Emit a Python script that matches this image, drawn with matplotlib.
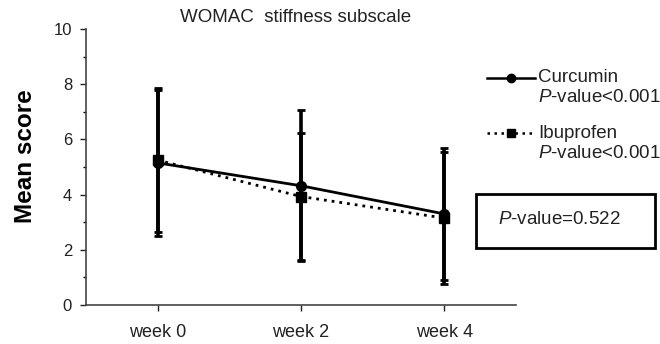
import matplotlib
matplotlib.use("Agg")
import matplotlib.pyplot as plt
from matplotlib.lines import Line2D
from matplotlib.patches import Rectangle

plt.rcParams['font.family'] = ['Liberation Sans', 'DejaVu Sans']
plt.rcParams['mathtext.fontset'] = 'custom'
plt.rcParams['mathtext.rm'] = 'Liberation Sans'
plt.rcParams['mathtext.it'] = 'Liberation Sans:italic'

# data
weeks = ["week 0", "week 2", "week 4"]
curcumin = [5.15, 4.32, 3.3]
curcumin_err = [2.65, 2.74, 2.4]
ibuprofen = [5.25, 3.93, 3.15]
ibuprofen_err = [2.6, 2.3, 2.4]
title = "WOMAC  stiffness subscale"
p_between = r"$\it{P}$-value=0.522"
p_within = r"$\it{P}$-value<0.001"

W, H = 660, 344
fig = plt.figure(figsize=(W / 100, H / 100), dpi=100)


def px(x, y):
    # pixel position (top-left origin) -> figure fraction
    return x / W, 1 - y / H


ax = fig.add_axes([86 / W, 1 - 305 / H, (516 - 86) / W, (305 - 29) / H])
x = list(range(len(weeks)))

ax.errorbar(x, ibuprofen, yerr=ibuprofen_err, color='black', lw=2, ls=(0, (1, 1.8)),
            marker='s', ms=7, capsize=3, elinewidth=2.6, capthick=2)
ax.errorbar(x, curcumin, yerr=curcumin_err, color='black', lw=2, ls='-',
            marker='o', ms=7, capsize=3, elinewidth=2.6, capthick=2)

ax.set_xlim(-0.5, 2.5)
ax.set_ylim(0, 10)
ax.set_xticks(x)
ax.set_xticklabels(weeks, fontsize=13)
ax.set_yticks(range(0, 11, 2))
ax.set_yticks(range(1, 10, 2), minor=True)
ax.tick_params(axis='y', labelsize=12, length=4, width=1, pad=6, colors='#222222')
ax.tick_params(axis='y', which='minor', length=2.5, width=1)
ax.tick_params(axis='x', length=4, width=1, pad=10, colors='#222222')
for s in ['top', 'right']:
    ax.spines[s].set_visible(False)
for s in ['left', 'bottom']:
    ax.spines[s].set_linewidth(1.2)
    ax.spines[s].set_color('#444444')

fig.text(*px(296, 17), title, fontsize=13.5, ha='center', va='center', color='#222222')
fig.text(*px(26, 156), "Mean score", fontsize=17.5, fontweight='bold', rotation=90,
         ha='center', va='center')

# legend, drawn by hand so the handle sits on the first text line
for y0, y1, name, ls, mk in [(78, 97, "Curcumin", '-', 'o'),
                             (133, 153, "Ibuprofen", (0, (1, 1.8)), 's')]:
    xa, ya = px(487, y0)
    xb, _ = px(535, y0)
    fig.add_artist(Line2D([xa, xb], [ya, ya], color='black', lw=1.8, ls=ls,
                          transform=fig.transFigure))
    fig.add_artist(Line2D([(xa + xb) / 2], [ya], color='black', marker=mk, ms=6,
                          transform=fig.transFigure))
    fig.text(*px(538, y0), name, fontsize=13.5, va='center', ha='left', color='#222222')
    fig.text(*px(538, y1), p_within, fontsize=13.5, va='center', ha='left', color='#222222')

bx, by = px(476, 248)
fig.add_artist(Rectangle((bx, by), (655 - 476) / W, (248 - 194) / H, fill=False,
                         lw=2, ec='black', transform=fig.transFigure))
fig.text(*px(498, 220), p_between, fontsize=13.5, va='center', ha='left', color='#222222')

fig.savefig("out.png", dpi=100)
